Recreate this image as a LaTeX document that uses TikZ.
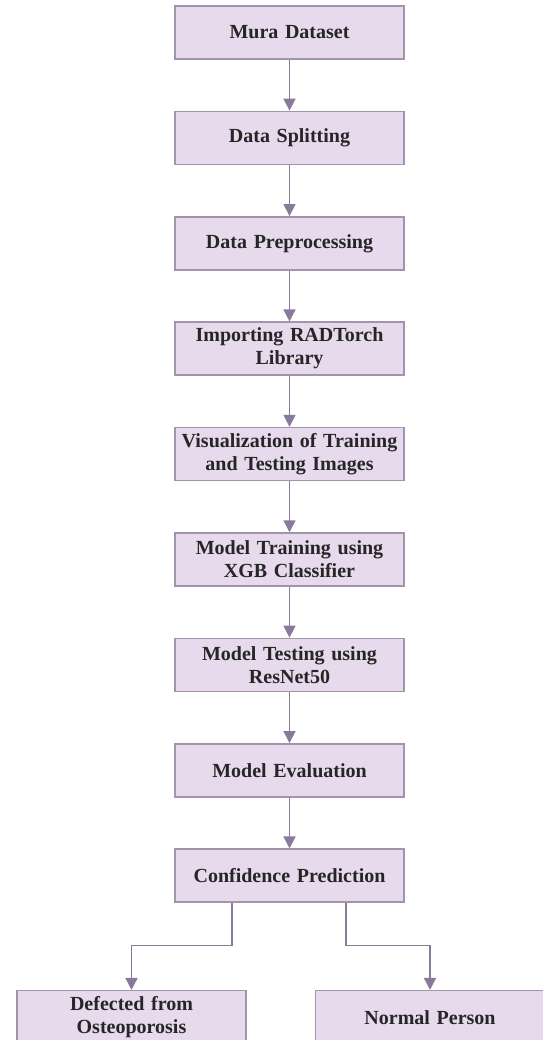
\documentclass[tikz,border=0pt]{standalone}
\usepackage{fontspec}
\setmainfont{Liberation Serif}
\usepackage{xcolor}
\usepackage{tikz}
\usetikzlibrary{positioning, arrows.meta}

\definecolor{boxfill}{HTML}{E6DAEC}
\definecolor{boxline}{HTML}{A393AC}
\definecolor{arrowline}{HTML}{8A7A99}

\begin{document}
\begin{tikzpicture}[
    box/.style={draw=boxline, line width=0.75pt, rectangle, fill=boxfill, align=center, minimum height=26.5pt, text width=112.5pt, inner sep=1pt, font=\fontsize{10}{11.5}\selectfont\bfseries, text=black!85},
    arrow/.style={->, >={Triangle[width=6pt, length=6pt]}, draw=arrowline, line width=0.75pt}
]
    \useasboundingbox (0,0) rectangle (271pt,-520pt);

    \node (step1) [box] at (144.75pt,-16.25pt) {Mura Dataset};
    \node (step2) [box, below of=step1, node distance=52.7pt] {Data Splitting};
    \node (step3) [box, below of=step2, node distance=52.7pt] {Data Preprocessing};
    \node (step4) [box, below of=step3, node distance=52.7pt] {Importing RADTorch\\Library};
    \node (step5) [box, below of=step4, node distance=52.7pt] {Visualization of Training\\and Testing Images};
    \node (step6) [box, below of=step5, node distance=52.7pt] {Model Training using\\XGB Classifier};
    \node (step7) [box, below of=step6, node distance=52.7pt] {Model Testing using\\ResNet50};
    \node (step8) [box, below of=step7, node distance=52.7pt] {Model Evaluation};
    \node (step9) [box, below of=step8, node distance=52.7pt] {Confidence Prediction};
    \node (defect) [box, below=43.5pt of step9, xshift=-79pt] {Defected from\\Osteoporosis};
    \node (normal) [box, below=43.5pt of step9, xshift=70.25pt] {Normal Person};

    \path [arrow] (step1) -- (step2);
    \path [arrow] (step2) -- (step3);
    \path [arrow] (step3) -- (step4);
    \path [arrow] (step4) -- (step5);
    \path [arrow] (step5) -- (step6);
    \path [arrow] (step6) -- (step7);
    \path [arrow] (step7) -- (step8);
    \path [arrow] (step8) -- (step9);
    \path [arrow] ([xshift=-28.75pt]step9.south) -- ++(0,-21.25pt) -| (defect.north);
    \path [arrow] ([xshift=28.25pt]step9.south) -- ++(0,-21.25pt) -| (normal.north);
\end{tikzpicture}
\end{document}
